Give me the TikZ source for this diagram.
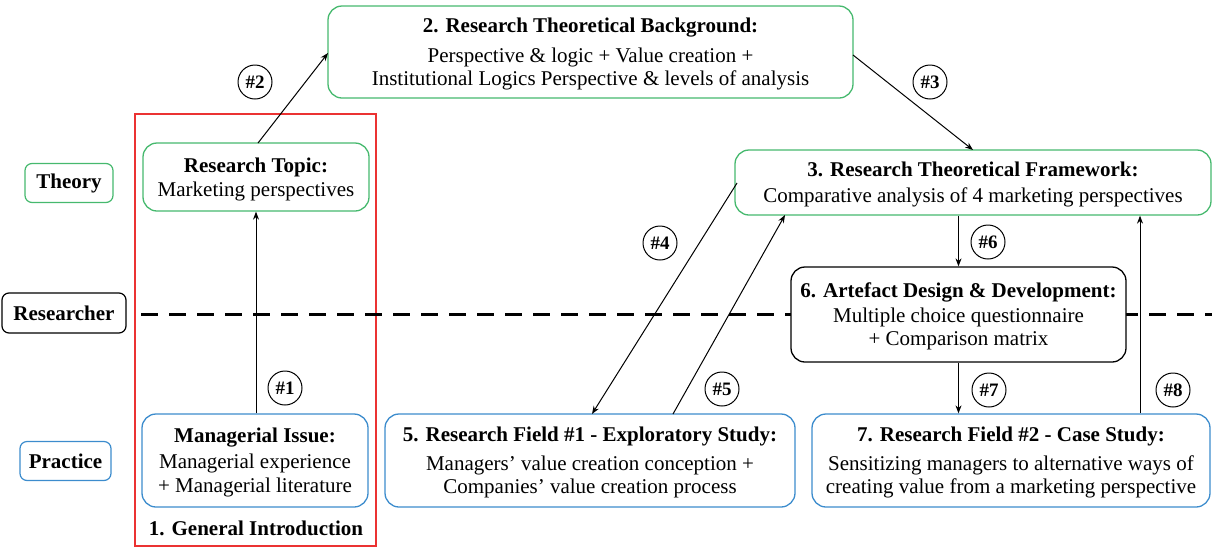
\documentclass[tikz,border=0pt]{standalone}
\usepackage{fontspec}
\newfontfamily\tnr{LiberationSerif}[Extension=.ttf, UprightFont=*-Regular, BoldFont=*-Bold]
\usetikzlibrary{arrows.meta}
\definecolor{grn}{RGB}{70,185,110}
\definecolor{blu}{RGB}{60,140,205}
\definecolor{rd}{RGB}{235,50,50}
\tikzset{
  base/.style={rectangle, rounded corners=14pt, line width=1.3pt, fill=white, align=center, inner sep=0pt, text depth=-3pt, font=\tnr\fontsize{21}{23}\selectfont},
  gbox/.style={base, draw=grn},
  bbox/.style={base, draw=blu},
  kbox/.style={base, draw=black},
  lab/.style={rectangle, rounded corners=7pt, line width=1.2pt, fill=white, inner sep=0pt, font=\tnr\fontsize{21}{22}\selectfont\bfseries},
  num/.style={circle, draw=black, line width=1pt, minimum size=34pt, inner sep=0pt, font=\tnr\fontsize{19}{19}\selectfont\bfseries},
  arr/.style={line width=1pt, -{Stealth[length=8pt,width=6pt]}},
}
\begin{document}
\begin{tikzpicture}[x=1pt,y=-1pt]
\useasboundingbox (0,0) rectangle (1212,547);
% red frame
\draw[rd, line width=1.1pt] (135,114) rectangle (376,546);
% dashed line
\draw[line width=3pt, dash pattern=on 17pt off 11pt] (141,314) -- (1212,314);
% labels
\node[lab, draw=grn, minimum width=88pt, minimum height=39pt] (theory) at (69,183) {Theory};
\node[lab, draw=black, minimum width=124pt, minimum height=40pt] (researcher) at (64,313) {Researcher};
\node[lab, draw=blu, minimum width=91pt, minimum height=39pt] (practice) at (65.5,461) {Practice};
% boxes
\node[gbox, minimum width=525pt, minimum height=92pt, text depth=0pt] (bg) at (590.5,52) {\textbf{2. Research Theoretical Background:}\\[7pt]Perspective \& logic + Value creation +\\Institutional Logics Perspective \& levels of analysis};
\node[gbox, minimum width=226pt, minimum height=68pt, text depth=-1.5pt] (topic) at (256,177) {\textbf{Research Topic:}\\[1pt]Marketing perspectives};
\node[gbox, minimum width=476pt, minimum height=65pt] (fw) at (973,182.5) {\textbf{3. Research Theoretical Framework:}\\[3pt]Comparative analysis of 4 marketing perspectives};
\node[kbox, minimum width=335pt, minimum height=95pt, text depth=-6pt] (art) at (958.5,314.5) {\textbf{6. Artefact Design \& Development:}\\[2pt]Multiple choice questionnaire\\+ Comparison matrix};
\node[bbox, minimum width=226pt, minimum height=93pt, text depth=-7pt] (mi) at (255,460.5) {\textbf{Managerial Issue:}\\[3pt]Managerial experience\\[1pt]+ Managerial literature};
\node[bbox, minimum width=410pt, minimum height=93pt] (rf1) at (590,460.5) {\textbf{5. Research Field \#1 - Exploratory Study:}\\[6pt]Managers’ value creation conception +\\Companies’ value creation process};
\node[bbox, minimum width=398pt, minimum height=93pt] (rf2) at (1011,460.5) {\textbf{7. Research Field \#2 - Case Study:}\\[6pt]Sensitizing managers to alternative ways of\\creating value from a marketing perspective};
\node[font=\tnr\fontsize{21}{22}\selectfont\bfseries] (gi) at (256,528) {1. General Introduction};
% arrows
\coordinate (a1s) at (256,414); \coordinate (a1e) at (256,211);
\draw[arr] (mi.north -| a1s) -- (topic.south -| a1e);
\draw[arr] (258,143) -- (328,53);
\draw[arr] (853,55) -- (973,150);
\draw[arr] (737,183) -- (592,414);
\draw[arr] (673,414) -- (785,215);
\draw[arr] (fw.south -| art.north) -- (art.north);
\draw[arr] (art.south) -- (rf2.north -| art.south);
\coordinate (c8) at (1140,300);
\draw[arr] (rf2.north -| c8) -- (fw.south -| c8);
% numbers
\node[num] (n1) at (285,388) {\#1};
\node[num] (n2) at (255,82) {\#2};
\node[num] (n3) at (930,82) {\#3};
\node[num] (n4) at (660,243) {\#4};
\node[num] (n5) at (722,389) {\#5};
\node[num] (n6) at (988,242) {\#6};
\node[num] (n7) at (989,390) {\#7};
\node[num] (n8) at (1173,390) {\#8};
\end{tikzpicture}
\end{document}
